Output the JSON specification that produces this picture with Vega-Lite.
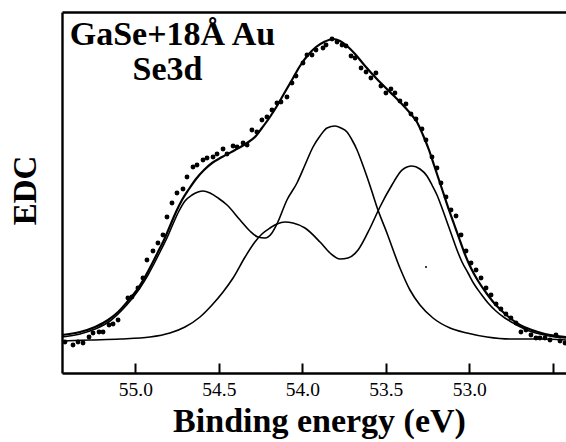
{
  "$schema": "https://vega.github.io/schema/vega-lite/v6.json",
  "width": 504,
  "height": 361,
  "autosize": {"type": "none"},
  "padding": {"left": 62, "top": 12, "right": 0, "bottom": 69},
  "background": "white",
  "config": {"view": {"stroke": null}, "font": "Liberation Serif"},
  "datasets": {
    "fit": [
      {"E":55.440,"I":38},{"E":55.332,"I":41},{"E":55.242,"I":46},{"E":55.164,"I":53},{"E":55.104,"I":61},{"E":55.045,"I":72},{"E":54.991,"I":83},{"E":54.943,"I":96},{"E":54.901,"I":109},{"E":54.865,"I":121},{"E":54.829,"I":133},{"E":54.793,"I":147},{"E":54.757,"I":161},{"E":54.721,"I":173},{"E":54.679,"I":184},{"E":54.637,"I":194},{"E":54.589,"I":203},{"E":54.541,"I":210},{"E":54.481,"I":216},{"E":54.403,"I":223},{"E":54.332,"I":230},{"E":54.284,"I":236},{"E":54.242,"I":245},{"E":54.194,"I":256},{"E":54.152,"I":267},{"E":54.104,"I":281},{"E":54.062,"I":293},{"E":54.014,"I":307},{"E":53.966,"I":318},{"E":53.918,"I":326},{"E":53.870,"I":331},{"E":53.816,"I":334},{"E":53.774,"I":332},{"E":53.732,"I":327},{"E":53.684,"I":319},{"E":53.624,"I":307},{"E":53.553,"I":294},{"E":53.475,"I":281},{"E":53.415,"I":271},{"E":53.355,"I":260},{"E":53.313,"I":251},{"E":53.277,"I":238},{"E":53.241,"I":223},{"E":53.211,"I":208},{"E":53.181,"I":193},{"E":53.151,"I":178},{"E":53.121,"I":163},{"E":53.091,"I":149},{"E":53.061,"I":135},{"E":53.031,"I":121},{"E":53.001,"I":109},{"E":52.971,"I":99},{"E":52.935,"I":89},{"E":52.893,"I":79},{"E":52.851,"I":70},{"E":52.804,"I":62},{"E":52.756,"I":55},{"E":52.696,"I":48},{"E":52.624,"I":43},{"E":52.546,"I":39},{"E":52.420,"I":36}
    ],
    "components": [
      {"c":"A","E":55.440,"I":36},{"c":"A","E":55.332,"I":39},{"c":"A","E":55.242,"I":44},{"c":"A","E":55.152,"I":52},{"c":"A","E":55.086,"I":62},{"c":"A","E":55.027,"I":73},{"c":"A","E":54.973,"I":85},{"c":"A","E":54.925,"I":98},{"c":"A","E":54.883,"I":111},{"c":"A","E":54.847,"I":123},{"c":"A","E":54.811,"I":135},{"c":"A","E":54.775,"I":149},{"c":"A","E":54.739,"I":162},{"c":"A","E":54.703,"I":172},{"c":"A","E":54.661,"I":178},{"c":"A","E":54.625,"I":181},{"c":"A","E":54.595,"I":182},{"c":"A","E":54.553,"I":180},{"c":"A","E":54.505,"I":175},{"c":"A","E":54.451,"I":168},{"c":"A","E":54.373,"I":153},{"c":"A","E":54.314,"I":142},{"c":"A","E":54.266,"I":136},{"c":"A","E":54.224,"I":135},{"c":"A","E":54.182,"I":140},{"c":"A","E":54.152,"I":149},{"c":"A","E":54.092,"I":173},{"c":"A","E":54.032,"I":190},{"c":"A","E":53.984,"I":208},{"c":"A","E":53.936,"I":226},{"c":"A","E":53.894,"I":237},{"c":"A","E":53.852,"I":245},{"c":"A","E":53.804,"I":247},{"c":"A","E":53.768,"I":245},{"c":"A","E":53.732,"I":241},{"c":"A","E":53.702,"I":233},{"c":"A","E":53.672,"I":223},{"c":"A","E":53.642,"I":210},{"c":"A","E":53.612,"I":196},{"c":"A","E":53.582,"I":181},{"c":"A","E":53.553,"I":166},{"c":"A","E":53.493,"I":140},{"c":"A","E":53.415,"I":105},{"c":"A","E":53.355,"I":83},{"c":"A","E":53.295,"I":68},{"c":"A","E":53.217,"I":55},{"c":"A","E":53.115,"I":45},{"c":"A","E":53.013,"I":40},{"c":"A","E":52.893,"I":36},{"c":"A","E":52.756,"I":34},{"c":"A","E":52.576,"I":34},{"c":"A","E":52.420,"I":33},
      {"c":"B","E":55.440,"I":32},{"c":"B","E":55.272,"I":33},{"c":"B","E":55.092,"I":34},{"c":"B","E":54.913,"I":36},{"c":"B","E":54.793,"I":40},{"c":"B","E":54.703,"I":46},{"c":"B","E":54.613,"I":56},{"c":"B","E":54.541,"I":68},{"c":"B","E":54.475,"I":81},{"c":"B","E":54.415,"I":95},{"c":"B","E":54.343,"I":116},{"c":"B","E":54.284,"I":131},{"c":"B","E":54.242,"I":139},{"c":"B","E":54.194,"I":145},{"c":"B","E":54.152,"I":149},{"c":"B","E":54.104,"I":151},{"c":"B","E":54.056,"I":150},{"c":"B","E":53.984,"I":145},{"c":"B","E":53.894,"I":131},{"c":"B","E":53.834,"I":120},{"c":"B","E":53.774,"I":114},{"c":"B","E":53.726,"I":115},{"c":"B","E":53.666,"I":123},{"c":"B","E":53.594,"I":145},{"c":"B","E":53.535,"I":166},{"c":"B","E":53.463,"I":188},{"c":"B","E":53.403,"I":203},{"c":"B","E":53.343,"I":207},{"c":"B","E":53.295,"I":204},{"c":"B","E":53.253,"I":197},{"c":"B","E":53.223,"I":188},{"c":"B","E":53.193,"I":178},{"c":"B","E":53.163,"I":165},{"c":"B","E":53.133,"I":151},{"c":"B","E":53.103,"I":137},{"c":"B","E":53.073,"I":123},{"c":"B","E":53.043,"I":111},{"c":"B","E":53.007,"I":100},{"c":"B","E":52.971,"I":89},{"c":"B","E":52.929,"I":79},{"c":"B","E":52.887,"I":70},{"c":"B","E":52.840,"I":62},{"c":"B","E":52.786,"I":55},{"c":"B","E":52.726,"I":49},{"c":"B","E":52.654,"I":43},{"c":"B","E":52.576,"I":39},{"c":"B","E":52.486,"I":36},{"c":"B","E":52.420,"I":35}
    ],
    "dots": [
      {"E":55.422,"I":31},{"E":55.374,"I":28},{"E":55.344,"I":31},{"E":55.314,"I":30},{"E":55.278,"I":36},{"E":55.254,"I":40},{"E":55.218,"I":41},{"E":55.194,"I":41},{"E":55.158,"I":48},{"E":55.134,"I":49},{"E":55.104,"I":53},{"E":55.045,"I":75},{"E":55.021,"I":76},{"E":54.985,"I":85},{"E":54.955,"I":95},{"E":54.931,"I":113},{"E":54.895,"I":122},{"E":54.865,"I":130},{"E":54.835,"I":138},{"E":54.811,"I":156},{"E":54.781,"I":170},{"E":54.751,"I":180},{"E":54.715,"I":184},{"E":54.691,"I":196},{"E":54.655,"I":206},{"E":54.631,"I":208},{"E":54.595,"I":213},{"E":54.571,"I":215},{"E":54.535,"I":216},{"E":54.511,"I":219},{"E":54.475,"I":224},{"E":54.451,"I":219},{"E":54.415,"I":227},{"E":54.391,"I":226},{"E":54.355,"I":230},{"E":54.331,"I":228},{"E":54.302,"I":243},{"E":54.272,"I":241},{"E":54.242,"I":253},{"E":54.212,"I":256},{"E":54.182,"I":263},{"E":54.152,"I":270},{"E":54.128,"I":271},{"E":54.092,"I":276},{"E":54.062,"I":290},{"E":54.038,"I":297},{"E":53.996,"I":310},{"E":53.972,"I":318},{"E":53.942,"I":318},{"E":53.918,"I":323},{"E":53.876,"I":325},{"E":53.858,"I":328},{"E":53.822,"I":334},{"E":53.792,"I":331},{"E":53.762,"I":328},{"E":53.738,"I":327},{"E":53.708,"I":317},{"E":53.684,"I":315},{"E":53.648,"I":305},{"E":53.618,"I":301},{"E":53.589,"I":295},{"E":53.559,"I":300},{"E":53.529,"I":287},{"E":53.499,"I":280},{"E":53.469,"I":284},{"E":53.445,"I":280},{"E":53.415,"I":272},{"E":53.379,"I":269},{"E":53.349,"I":259},{"E":53.319,"I":254},{"E":53.283,"I":244},{"E":53.259,"I":233},{"E":53.223,"I":216},{"E":53.193,"I":205},{"E":53.169,"I":190},{"E":53.139,"I":176},{"E":53.109,"I":163},{"E":53.079,"I":157},{"E":53.049,"I":138},{"E":53.019,"I":122},{"E":52.989,"I":110},{"E":52.959,"I":103},{"E":52.929,"I":95},{"E":52.899,"I":85},{"E":52.869,"I":78},{"E":52.839,"I":69},{"E":52.810,"I":64},{"E":52.780,"I":59},{"E":52.750,"I":55},{"E":52.720,"I":50},{"E":52.690,"I":41},{"E":52.660,"I":43},{"E":52.630,"I":38},{"E":52.600,"I":35},{"E":52.576,"I":35},{"E":52.546,"I":35},{"E":52.516,"I":33},{"E":52.480,"I":38},{"E":52.456,"I":32},{"E":52.426,"I":30}
    ],
    "speck": [{"E":53.259,"I":106}],
    "labels": [
      {"label":"GaSe+18Å Au","E":54.778,"I":328},
      {"label":"Se3d","E":54.808,"I":293}
    ]
  },
  "resolve": {"axis": {"x": "independent"}},
  "layer": [
    {
      "data": {"name": "components"},
      "mark": {"type": "line", "interpolate": "monotone", "color": "black", "strokeWidth": 1.6},
      "encoding": {
        "x": {"field": "E", "type": "quantitative", "scale": {"domain": [52.42, 55.44], "reverse": true, "nice": false, "zero": false},
          "axis": {"orient": "bottom", "values": [55, 54.5, 54, 53.5, 53, 52.5], "format": ".1f", "labelExpr": "datum.value < 52.75 ? '' : datum.label", "tickSize": -10, "tickWidth": 2, "tickColor": "black", "domainColor": "black", "domainWidth": 2.4, "labelFont": "Liberation Serif", "labelFontSize": 19.5, "labelColor": "black", "labelPadding": 17, "grid": false, "title": "Binding energy (eV)", "titleFont": "Liberation Serif", "titleFontSize": 34, "titleFontWeight": "bold", "titleColor": "black", "titleBaseline": "alphabetic", "titleY": 58, "titleX": 257}},
        "y": {"field": "I", "type": "quantitative", "scale": {"domain": [0, 361], "nice": false, "zero": false},
          "axis": {"title": "EDC", "labels": false, "ticks": false, "grid": false, "domainWidth": 2.4, "domainColor": "black", "titleFont": "Liberation Serif", "titleFontSize": 33, "titleFontWeight": "bold", "titleColor": "black", "titleAngle": -90, "titleX": -27, "titleY": 178, "titleBaseline": "alphabetic", "titleAlign": "center"}},
        "detail": {"field": "c"}
      }
    },
    {
      "data": {"name": "fit"},
      "mark": {"type": "line", "interpolate": "monotone", "color": "black", "strokeWidth": 2.2},
      "encoding": {
        "x": {"field": "E", "type": "quantitative", "axis": null},
        "y": {"field": "I", "type": "quantitative"}
      }
    },
    {
      "data": {"name": "dots"},
      "mark": {"type": "point", "filled": true, "color": "black", "opacity": 1, "size": 24},
      "encoding": {
        "x": {"field": "E", "type": "quantitative", "axis": null},
        "y": {"field": "I", "type": "quantitative"}
      }
    },
    {
      "data": {"name": "speck"},
      "mark": {"type": "point", "filled": true, "color": "black", "opacity": 1, "size": 4},
      "encoding": {
        "x": {"field": "E", "type": "quantitative", "axis": null},
        "y": {"field": "I", "type": "quantitative"}
      }
    },
    {
      "data": {"name": "labels"},
      "mark": {"type": "text", "font": "Liberation Serif", "fontWeight": "bold", "fontSize": 34, "align": "center", "baseline": "alphabetic", "color": "black"},
      "encoding": {
        "x": {"field": "E", "type": "quantitative", "axis": {"orient": "top", "labels": false, "ticks": false, "title": null, "grid": false, "domainWidth": 2.4, "domainColor": "black"}},
        "y": {"field": "I", "type": "quantitative"},
        "text": {"field": "label"}
      }
    }
  ]
}
